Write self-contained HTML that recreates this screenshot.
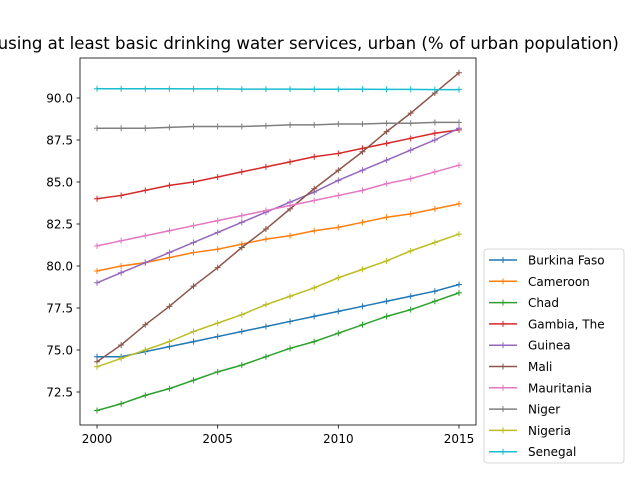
<!DOCTYPE html>
<html><head><meta charset="utf-8"><style>
body{margin:0;background:#fff}
svg text{font-family:"DejaVu Sans","Liberation Sans",sans-serif;fill:#000}
</style></head><body>
<svg id="chart" width="640" height="480">
<rect width="640" height="480" fill="#fff"/>
<text x="278" y="49" font-size="16.6" text-anchor="middle">People using at least basic drinking water services, urban (% of urban population)</text>
<g id="grid"></g>
<g id="series"></g>
<rect x="80" y="58" width="396" height="367" fill="none" stroke="#000" stroke-width="0.8"/>
<g id="legend"></g>
</svg>
<script>
const years=[2000,2001,2002,2003,2004,2005,2006,2007,2008,2009,2010,2011,2012,2013,2014,2015];
const names=["Burkina Faso","Cameroon","Chad","Gambia, The","Guinea","Mali","Mauritania","Niger","Nigeria","Senegal"];
const colors=["#1f77b4","#ff7f0e","#2ca02c","#d62728","#9467bd","#8c564b","#e377c2","#7f7f7f","#bcbd22","#17becf"];
const burkina=[74.6,74.6,74.9,75.2,75.5,75.8,76.1,76.4,76.7,77.0,77.3,77.6,77.9,78.2,78.5,78.9];
const cameroon=[79.7,80.0,80.2,80.5,80.8,81.0,81.3,81.6,81.8,82.1,82.3,82.6,82.9,83.1,83.4,83.7];
const chad=[71.4,71.8,72.3,72.7,73.2,73.7,74.1,74.6,75.1,75.5,76.0,76.5,77.0,77.4,77.9,78.4];
const gambia=[84.0,84.2,84.5,84.8,85.0,85.3,85.6,85.9,86.2,86.5,86.7,87.0,87.3,87.6,87.9,88.1];
const guinea=[79.0,79.6,80.2,80.8,81.4,82.0,82.6,83.2,83.8,84.4,85.1,85.7,86.3,86.9,87.5,88.2];
const mali=[74.3,75.3,76.5,77.6,78.8,79.9,81.1,82.2,83.4,84.6,85.7,86.8,88.0,89.1,90.3,91.5];
const mauritania=[81.2,81.5,81.8,82.1,82.4,82.7,83.0,83.3,83.6,83.9,84.2,84.5,84.9,85.2,85.6,86.0];
const niger=[88.2,88.2,88.2,88.25,88.3,88.3,88.3,88.35,88.4,88.4,88.45,88.45,88.5,88.5,88.55,88.55];
const nigeria=[74.0,74.5,75.0,75.5,76.1,76.6,77.1,77.7,78.2,78.7,79.3,79.8,80.3,80.9,81.4,81.9];
const senegal=[90.55,90.55,90.55,90.55,90.54,90.54,90.53,90.53,90.53,90.52,90.52,90.52,90.51,90.51,90.5,90.5];
const xTicks=[2000,2005,2010,2015];
const yTicks=[72.5,75.0,77.5,80.0,82.5,85.0,87.5,90.0];
const allSeries=[burkina,cameroon,chad,gambia,guinea,mali,mauritania,niger,nigeria,senegal];
const NS="http://www.w3.org/2000/svg";
const X=v=>97+(v-2000)*24.133;
const Y=v=>98+(90-v)*16.8;
function mk(t,a,p){const e=document.createElementNS(NS,t);for(const k in a)e.setAttribute(k,a[k]);p.appendChild(e);return e;}
const grid=document.getElementById('grid');
xTicks.forEach(t=>{
 const l=mk('line',{x1:X(t),x2:X(t),y1:425,y2:428.5,stroke:'#000','stroke-width':0.8},grid);
 
 
 const tx=mk('text',{x:X(t),y:443,'font-size':12,'text-anchor':'middle'},grid);tx.textContent=t;
 
 
});
yTicks.forEach(t=>{
 const l=mk('line',{x1:76.5,x2:80,y1:Y(t),y2:Y(t),stroke:'#000','stroke-width':0.8},grid);
 
 
 const tx=mk('text',{x:73,y:Y(t)+4.5,'font-size':12,'text-anchor':'end'},grid);tx.textContent=t.toFixed(1);
 
 
});
const sg=document.getElementById('series');
allSeries.forEach((s,i)=>{
 const g=mk('g',{},sg);
 
 
 const pts=s.map((v,j)=>X(years[j])+','+Y(v)).join(' ');
 mk('polyline',{points:pts,fill:'none',stroke:colors[i],'stroke-width':1.5},g);
 s.forEach((v,j)=>{
  const cx=X(years[j]),cy=Y(v);
  const m=mk('path',{d:`M${cx-3},${cy}H${cx+3}M${cx},${cy-3}V${cy+3}`,stroke:colors[i],'stroke-width':1},g);
  
  
 });
});
const lg=document.getElementById('legend');
const box=mk('rect',{x:484,y:249,width:140,height:214,rx:3,fill:'#fff',stroke:'#ccc','stroke-width':0.8},lg);


names.forEach((n,i)=>{
 const y=260+i*21.3;
 const g=mk('g',{},lg);
 
 
 mk('line',{x1:489,x2:517,y1:y,y2:y,stroke:colors[i],'stroke-width':1.5},g);
 mk('path',{d:`M500,${y}H506M503,${y-3}V${y+3}`,stroke:colors[i],'stroke-width':1},g);
 const t=mk('text',{x:528,y:y+4.5,'font-size':12},g);t.textContent=n;
});
</script>
</body></html>
